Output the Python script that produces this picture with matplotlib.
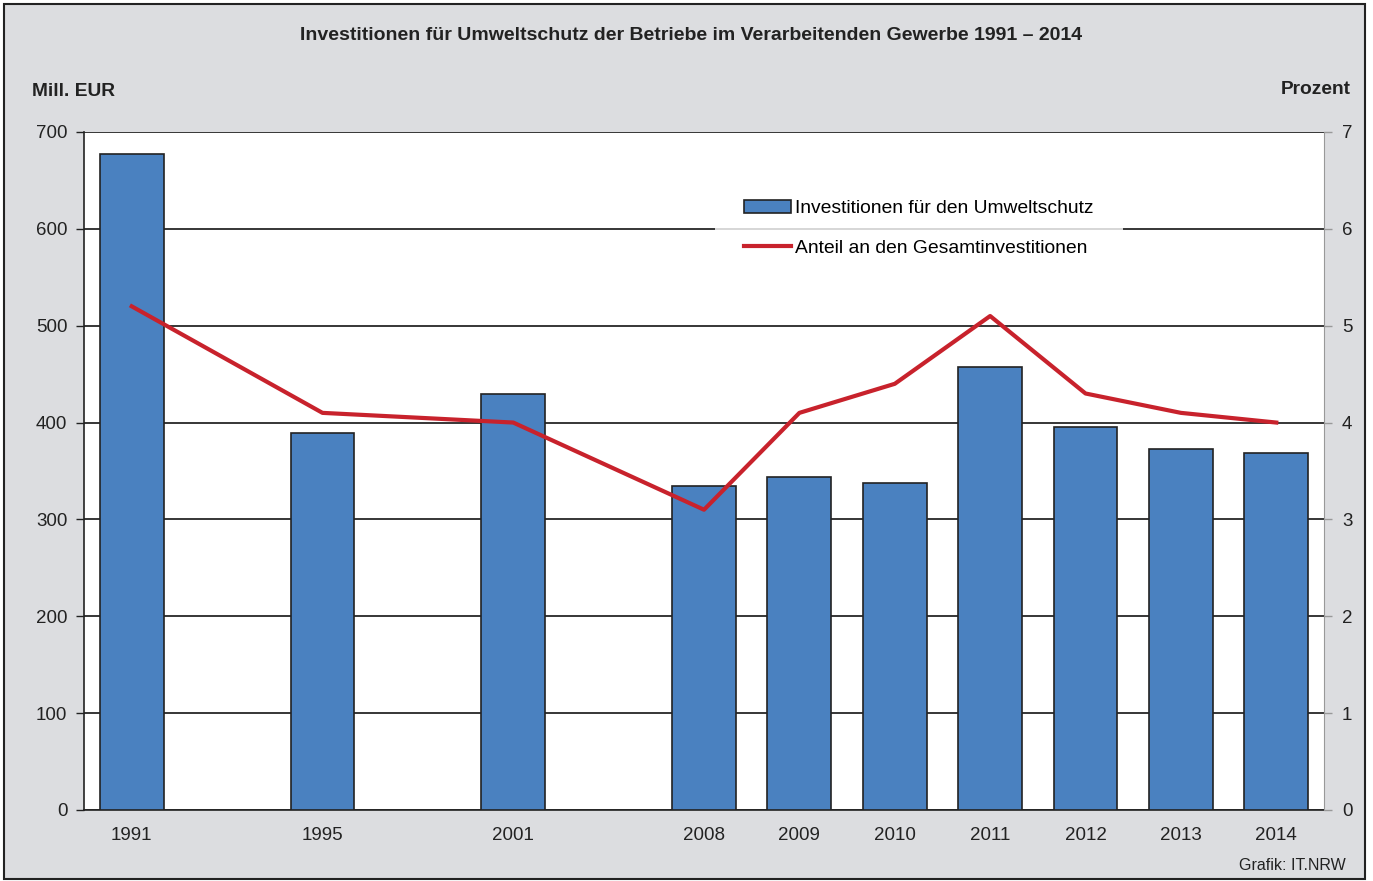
import numpy as np
import matplotlib.pyplot as plt
from matplotlib.patches import Rectangle
from matplotlib.lines import Line2D

plt.rcParams['font.family'] = ['Liberation Sans', 'DejaVu Sans']

# data
years = ['1991', '1995', '2001', '2008', '2009', '2010', '2011', '2012', '2013', '2014']
slots = [0, 2, 4, 6, 7, 8, 9, 10, 11, 12]   # gaps for missing years
invest = [677, 389, 429, 335, 344, 338, 457, 395, 373, 369]      # Mill. EUR
anteil = [5.2, 4.1, 4.0, 3.1, 4.1, 4.4, 5.1, 4.3, 4.1, 4.0]      # Prozent

bg = '#dcdde0'
blue = '#4a81c0'
red = '#c8222c'

fig = plt.figure(figsize=(13.73, 8.81), dpi=100)
fig.patch.set_facecolor('white')
fig.patches.append(Rectangle((0.003, 0.002), 0.991, 0.994, transform=fig.transFigure,
                             facecolor=bg, edgecolor='#222222', linewidth=1.5, zorder=-1))

ax = fig.add_axes([0.0612, 0.0806, 0.9031, 0.7696])
ax.set_facecolor('white')
ax.bar(slots, invest, width=0.67, color=blue, edgecolor='#222222', linewidth=1.2, zorder=3)

ax.set_xlim(-0.5, 12.5)
ax.set_ylim(0, 700)
ax.set_yticks(np.arange(0, 701, 100))
ax.set_xticks(slots)
ax.set_xticklabels(years)
ax.grid(axis='y', color='black', linewidth=1.1, zorder=1)
ax.set_axisbelow(True)
ax.tick_params(axis='x', length=0, labelsize=13.5, pad=12, colors='#222222')
ax.tick_params(axis='y', length=6, width=1, labelsize=13.5, pad=6, colors='#222222')
for s in ['top', 'right']:
    ax.spines[s].set_visible(False)
ax.spines['left'].set_color('#222222')
ax.spines['bottom'].set_color('#222222')
ax.spines['left'].set_linewidth(1.2)
ax.spines['bottom'].set_linewidth(1.2)

ax2 = ax.twinx()
ax2.plot(slots, anteil, color=red, linewidth=3, zorder=5)
ax2.set_ylim(0, 7)
ax2.set_yticks(np.arange(0, 8, 1))
ax2.tick_params(axis='y', length=6, width=1, color='#999999', labelsize=13.5, pad=7, labelcolor='#222222')
for s in ['top', 'left', 'bottom']:
    ax2.spines[s].set_visible(False)
ax2.spines['right'].set_color('#999999')

handles = [Rectangle((0, 0), 1, 1, facecolor=blue, edgecolor='#222222', linewidth=1.2),
           Line2D([], [], color=red, linewidth=3)]
leg = ax2.legend(handles, ['Investitionen für den Umweltschutz', 'Anteil an den Gesamtinvestitionen'],
                 loc='upper left', bbox_to_anchor=(0.509, 0.942), frameon=True, fontsize=13.9,
                 handlelength=2.45, handleheight=0.6, handletextpad=0.2, labelspacing=1.17,
                 borderpad=1.5, borderaxespad=0, fancybox=False)
leg.get_frame().set_facecolor('white')
leg.get_frame().set_edgecolor('white')
leg.get_frame().set_linewidth(0)

fig.text(0.5036, 0.960, 'Investitionen für Umweltschutz der Betriebe im Verarbeitenden Gewerbe 1991 – 2014',
         ha='center', va='center', fontsize=14, fontweight='bold', color='#222222')
fig.text(0.023, 0.896, 'Mill. EUR', ha='left', va='center', fontsize=13.8, fontweight='bold', color='#222222')
fig.text(0.984, 0.898, 'Prozent', ha='right', va='center', fontsize=13.8, fontweight='bold', color='#222222')
fig.text(0.98, 0.018, 'Grafik: IT.NRW', ha='right', va='center', fontsize=11.5, color='#222222')

fig.savefig('out.png', dpi=100, facecolor=fig.get_facecolor())
